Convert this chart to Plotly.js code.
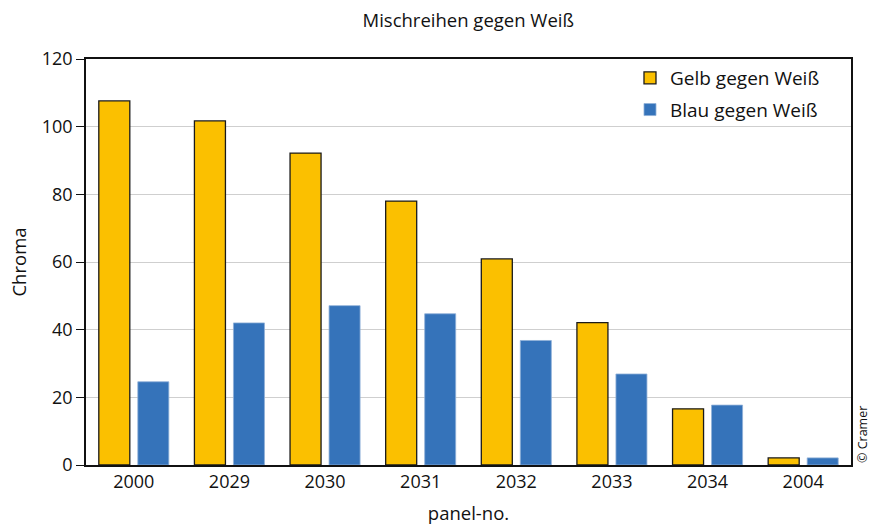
<!DOCTYPE html>
<html><head><meta charset="utf-8">
<script src="https://cdn.plot.ly/plotly-3.0.1.min.js"></script>
<style>html,body{margin:0;padding:0;background:#fff}#chart{width:872px;height:527px}</style>
</head><body><div id="chart"></div>
<script>
const categories = ["2000","2029","2030","2031","2032","2033","2034","2004"];
const gelbValues = [107.6, 101.7, 92.2, 78.0, 60.9, 42.1, 16.6, 2.1];
const blauValues = [24.6, 42.0, 47.1, 44.7, 36.8, 26.9, 17.7, 2.1];
const yTicks = [0, 20, 40, 60, 80, 100, 120];

const font = "Open Sans, Noto Sans, sans-serif";
const data = [
  {type:"bar", name:"Gelb gegen Weiß", x:categories, y:gelbValues, legendgroup:"g",
   marker:{color:"#FBC000", line:{color:"#1a1a1a", width:1.3}}},
  {type:"bar", name:"Blau gegen Weiß", x:categories, y:blauValues, legendgroup:"b",
   marker:{color:"#3573BA", line:{color:"#8fb0d8", width:0.8}}}
];
const layout = {
  width:872, height:527,
  margin:{l:86, r:21, t:59, b:62},
  paper_bgcolor:"#fff", plot_bgcolor:"#fff",
  font:{family:font, color:"#111", size:18},
  title:{text:"Mischreihen gegen Weiß", x:0.537, xanchor:"center", y:0.962, yanchor:"middle", font:{size:18.5, family:font, color:"#111"}},
  barmode:"group", bargap:0.184, bargroupgap:0.205,
  showlegend:true,
  legend:{x:0.966, xanchor:"right", y:1.0, yanchor:"top", bgcolor:"rgba(255,255,255,0)", font:{size:19, family:font},
    traceorder:"grouped", tracegroupgap:4, itemwidth:30},
  xaxis:{type:"category", showline:true, linecolor:"#111", linewidth:1.5, mirror:true, ticks:"", tickfont:{size:18},
    title:{text:"panel-no.", font:{size:18.5}, standoff:15}},
  yaxis:{range:[0,120], tickvals:yTicks, showline:true, linecolor:"#111", linewidth:1.5, mirror:true,
    ticks:"outside", ticklen:8, tickcolor:"#111", tickwidth:1, showgrid:true, gridcolor:"#cfcfcf", gridwidth:1.2,
    zeroline:false, tickfont:{size:18}, title:{text:"Chroma", font:{size:18.5}, standoff:10}},
  annotations:[{text:"© Cramer", xref:"paper", yref:"paper", x:1, xanchor:"left", xshift:1, y:0, yanchor:"bottom", textangle:-90, showarrow:false, font:{size:12.5, family:font, color:"#111"}}]
};
Plotly.newPlot("chart", data, layout, {displayModeBar:false});
</script></body></html>
